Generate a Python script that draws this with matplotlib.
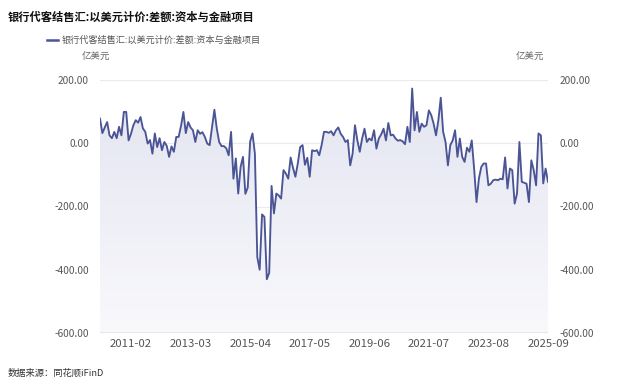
import matplotlib
matplotlib.use("Agg")
import matplotlib.pyplot as plt
import numpy as np
from matplotlib.colors import LinearSegmentedColormap

plt.rcParams['font.family'] = ['Noto Sans CJK SC', 'DejaVu Sans']

title = "银行代客结售汇:以美元计价:差额:资本与金融项目"
unit = "亿美元"
source = "数据来源：同花顺iFinD"

tick_labels = ["2011-02", "2013-03", "2015-04", "2017-05", "2019-06", "2021-07", "2023-08", "2025-09"]
tick_index = [13, 38, 63, 88, 113, 138, 163, 188]
y_ticks = [-600, -400, -200, 0, 200]

values = [
    78, 32, 50, 67, 25, 16, 36, 16, 52, 25, 99, 99, 9, 30, 57, 73, 65, 83, 47, 36,
    -1, 10, -33, 31, -12, 16, -22, 4, -8, -43, -10, -27, 20, 20, 55, 99, 32, 67, 50, 41,
    4, 41, 30, 35, 20, -1, -6, 50, 106, 47, 4, -9, -9, -16, -38, 36, -112, -48, -159, -75,
    -43, -160, -140, 5, 31, -33, -360, -400, -225, -233, -430, -410, -135, -222, -159, -165, -175, -85, -96, -112,
    -45, -78, -106, -64, -12, -6, -68, -46, -106, -22, -25, -22, -38, -6, 36, 36, 33, 38, 25, 41,
    50, 30, 20, 4, 10, -70, -33, 57, 9, -27, 15, 46, 4, 15, 9, 41, -17, 15, 28, 46,
    9, 64, 25, 27, 15, 8, 10, 6, -3, 52, 4, 173, 41, 99, 36, 62, 52, 57, 104, 89,
    62, 25, 73, 144, 36, 4, -70, -6, 9, 41, -43, 15, -43, -59, -14, -27, 9, -80, -186, -112,
    -75, -64, -64, -133, -128, -117, -115, -117, -112, -114, -45, -143, -80, -85, -191, -159, 4, -122, -125, -128,
    -186, -54, -85, -133, 31, 25, -127, -80, -122,
]

x = np.arange(len(values))
y = np.array(values, dtype=float)

fig = plt.figure(figsize=(6.4, 3.87), dpi=100)
ax = fig.add_axes([100/640, 1-333/387, 448/640, (333-80)/387])

ymin, ymax = -600, 200
ax.set_xlim(0, len(values)-1)
ax.set_ylim(ymin, ymax)

# gradient fill under line: darker at top, lighter toward bottom
poly = ax.fill_between(x, y, ymin, color='none', lw=0)
grad = np.linspace(0, 1, 256).reshape(-1, 1)  # row 0 = top with origin='upper'
cmap = LinearSegmentedColormap.from_list('g', ['#e2e4f0', '#f9f9fc'])
im = ax.imshow(grad, extent=[0, len(values)-1, ymin, ymax], aspect='auto', cmap=cmap,
               origin='upper', zorder=1)
im.set_clip_path(poly.get_paths()[0], transform=ax.transData)

ax.plot(x, y, color='#4b5596', lw=1.35, zorder=3, solid_joinstyle='round')

for v in y_ticks:
    if v == ymin:
        continue
    ax.axhline(v, color='#e9e9ee', lw=0.8, zorder=0)
ax.axhline(ymin, color='#9a9aaa', lw=1.0, zorder=2)

for s in ax.spines.values():
    s.set_visible(False)

ax.set_yticks(y_ticks)
ax.set_yticklabels([f"{v:.2f}" for v in y_ticks])
ax.tick_params(axis='y', length=0, labelsize=7.3, labelcolor='#555555', pad=8,
               labelright=True, right=False, left=False)
ax.set_xticks(tick_index)
ax.set_xticklabels(tick_labels)
ax.tick_params(axis='x', length=0, labelsize=8.2, labelcolor='#555555', pad=4)

fig.text(8/640, 1-17/387, title, fontsize=8.1, fontweight='bold', color='#111111', va='center', ha='left')
fig.add_artist(plt.Line2D([47/640, 58/640], [1-40/387, 1-40/387], color='#4b5596', lw=1.8))
fig.text(62/640, 1-40/387, title, fontsize=6.6, color='#555555', va='center', ha='left')
fig.text(96/640, 1-57/387, unit, fontsize=6.8, color='#666666', va='center', ha='center')
fig.text(530/640, 1-57/387, unit, fontsize=6.8, color='#666666', va='center', ha='center')
fig.text(8/640, 1-373/387, source, fontsize=6.7, color='#333333', va='center', ha='left')

fig.savefig('out.png', dpi=100, facecolor='white')
